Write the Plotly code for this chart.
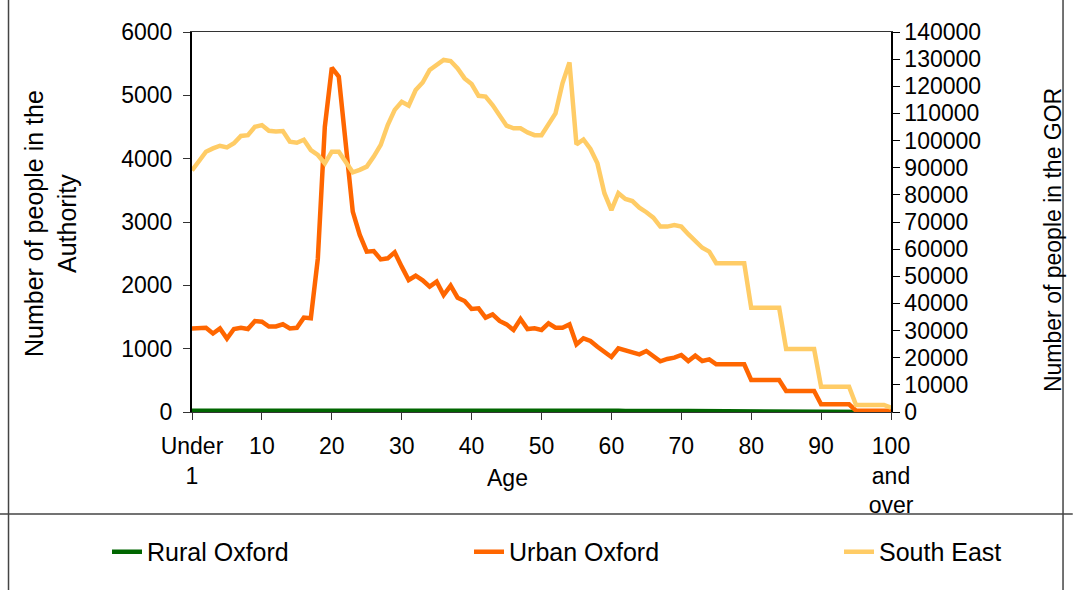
import plotly.graph_objects as go

ages = ["Under 1"] + [str(a) for a in range(1, 100)] + ["100 and over"]
tick_ages = ["Under 1", "10", "20", "30", "40", "50", "60", "70", "80", "90", "100 and over"]
tick_text = ["Under<br>1", "10", "20", "30", "40", "50", "60", "70", "80", "90", "100<br>and<br>over"]

rural = [20, 18, 20, 22, 19, 21, 20, 18, 19, 20,
         20, 19, 21, 20, 22, 21, 23, 24, 28, 35,
         33, 30, 28, 25, 27, 26, 24, 29, 27, 32,
         30, 28, 30, 27, 25, 26, 24, 28, 25, 27,
         30, 26, 28, 25, 24, 27, 25, 23, 24, 26,
         22, 24, 21, 23, 20, 22, 19, 21, 20, 19,
         18, 20, 17, 19, 18, 17, 16, 18, 15, 16,
         15, 14, 13, 14, 12, 11, 11, 10, 10, 9,
         8, 8, 7, 7, 6, 5, 5, 4, 4, 3,
         2, 2, 2, 1, 1, 1, 1, 1, 0, 0, 0]

urban = [1320, 1320, 1330, 1240, 1320, 1160, 1310, 1330, 1310, 1437,
         1425, 1350, 1350, 1385, 1320, 1330, 1490, 1480, 2420, 4500,
         5437, 5295, 4200, 3163, 2795, 2531, 2542, 2410, 2426, 2521,
         2295, 2084, 2152, 2080, 1979, 2058, 1847, 1995, 1805, 1753,
         1626, 1637, 1490, 1542, 1437, 1384, 1295, 1468, 1310, 1321,
         1295, 1400, 1331, 1331, 1384, 1068, 1163, 1121, 1031, 942,
         868, 1005, 979, 953, 910, 963, 884, 800, 837, 858,
         900, 805, 889, 805, 832, 753, 753, 753, 753, 753,
         505, 505, 505, 505, 505, 331, 331, 331, 331, 331,
         121, 121, 121, 121, 121, 20, 20, 20, 20, 20, 20]

south_east = [89000, 92800, 95900, 97100, 98100, 97500, 99000, 101700, 102000, 105100,
              105700, 103600, 103300, 103500, 99600, 99200, 100300, 96500, 94700, 91600,
              95900, 95900, 92200, 88300, 89200, 90400, 94100, 98400, 105700, 111300,
              114300, 112900, 118600, 121400, 126000, 128100, 129700, 129300, 126600, 122900,
              120800, 116500, 116200, 113100, 109400, 105500, 104500, 104500, 103000, 102000,
              102000, 105700, 110000, 121100, 128800, 98600, 100400, 96900, 91600, 80600,
              74400, 80600, 78500, 77700, 75300, 73600, 71600, 68300, 68300, 68900,
              68300, 65500, 63000, 60500, 59100, 54800, 54800, 54800, 54800, 54800,
              38400, 38400, 38400, 38400, 38400, 23200, 23200, 23200, 23200, 23200,
              9300, 9300, 9300, 9300, 9300, 2600, 2600, 2600, 2600, 2600, 1600]

FONT = "Liberation Sans, Arial, sans-serif"
TICK = 23

fig = go.Figure()
fig.add_trace(go.Scatter(x=ages, y=rural, name="Rural Oxford", mode="lines",
                         line=dict(color="#006600", width=4.5), yaxis="y", legend="legend"))
fig.add_trace(go.Scatter(x=ages, y=urban, name="Urban Oxford", mode="lines",
                         line=dict(color="#FF6600", width=4.5), yaxis="y", legend="legend2"))
fig.add_trace(go.Scatter(x=ages, y=south_east, name="South East", mode="lines",
                         line=dict(color="#FFCC66", width=4.5), yaxis="y2", legend="legend3"))

leg_common = dict(orientation="h", y=-0.3684, xanchor="left", yanchor="middle",
                  font=dict(size=25), bgcolor="rgba(0,0,0,0)")

fig.update_layout(
    width=1073, height=590,
    margin=dict(l=192, r=182, t=32, b=178, autoexpand=False),
    paper_bgcolor="white", plot_bgcolor="white",
    font=dict(family=FONT, size=TICK, color="black"),
    xaxis=dict(type="category", range=[0, 100], tickmode="array",
               tickvals=tick_ages, ticktext=tick_text,
               showgrid=False, zeroline=False, showline=True, linecolor="#333333",
               linewidth=1, mirror=True, ticks="outside", ticklen=7, tickcolor="#333333",
               ticklabelstandoff=6, tickfont=dict(size=TICK)),
    yaxis=dict(range=[0, 6000], dtick=1000, showgrid=False, zeroline=False,
               showline=True, linecolor="black", linewidth=2, ticks="outside",
               ticklen=7, tickcolor="#333333", ticklabelstandoff=6,
               tickfont=dict(size=TICK)),
    yaxis2=dict(range=[0, 140000], dtick=10000, overlaying="y", side="right",
                showgrid=False, zeroline=False, showline=True, linecolor="black",
                linewidth=1.5, ticks="outside", ticklen=7, tickcolor="black",
                tickformat="d", tickfont=dict(size=TICK)),
    yaxis3=dict(range=[0, 140000], dtick=10000, overlaying="y", side="right",
                showgrid=False, zeroline=False, showline=False, ticks="inside",
                ticklen=7, tickcolor="black", showticklabels=False),
    showlegend=True,
    legend=dict(x=-0.1216, **leg_common),
    legend2=dict(x=0.3963, **leg_common),
    legend3=dict(x=0.9256, **leg_common),
)

fig.add_annotation(text="Number of people in the<br>Authority", xref="paper", yref="paper",
                   x=-0.2031, y=0.4947, textangle=-90, showarrow=False,
                   font=dict(size=25), xanchor="center", yanchor="middle")
fig.add_annotation(text="Number of people in the GOR", xref="paper", yref="paper",
                   x=1.2318, y=0.4526, textangle=-90, showarrow=False,
                   font=dict(size=23), xanchor="center", yanchor="middle")
fig.add_annotation(text="Age", xref="paper", yref="paper", x=0.452, y=-0.1737,
                   showarrow=False, font=dict(size=TICK), xanchor="center", yanchor="middle")

line_style = dict(color="#444444", width=1.5)
fig.add_shape(type="line", xref="paper", yref="paper", x0=-0.2625, x1=-0.2625,
              y0=1.0842, y1=-0.4684, line=line_style)
fig.add_shape(type="line", xref="paper", yref="paper", x0=1.2461, x1=1.2461,
              y0=1.0842, y1=-0.4684, line=line_style)
fig.add_shape(type="line", xref="paper", yref="paper", x0=-0.2747, x1=1.26,
              y0=-0.2684, y1=-0.2684, line=line_style)

fig.write_html("out.html", config={"displayModeBar": False},
               post_script="document.body.style.margin='0px';")
